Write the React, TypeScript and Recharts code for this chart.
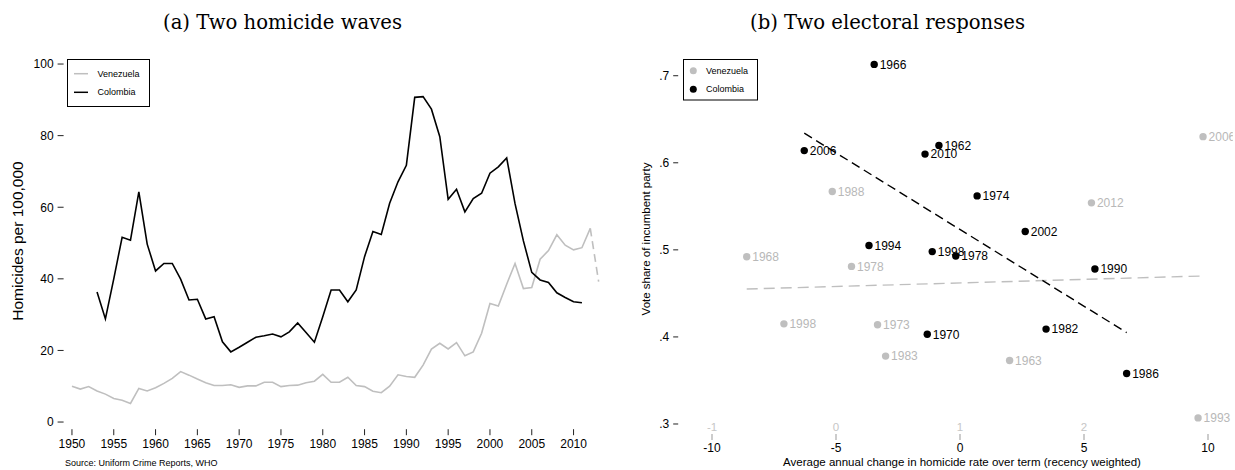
import React from 'react'
import { LineChart, Line, XAxis, YAxis, ScatterChart, Scatter } from 'recharts'

// ---- panel (a): homicide rates per 100,000 ----
const years = [
  1950, 1951, 1952, 1953, 1954, 1955, 1956, 1957, 1958, 1959,
  1960, 1961, 1962, 1963, 1964, 1965, 1966, 1967, 1968, 1969,
  1970, 1971, 1972, 1973, 1974, 1975, 1976, 1977, 1978, 1979,
  1980, 1981, 1982, 1983, 1984, 1985, 1986, 1987, 1988, 1989,
  1990, 1991, 1992, 1993, 1994, 1995, 1996, 1997, 1998, 1999,
  2000, 2001, 2002, 2003, 2004, 2005, 2006, 2007, 2008, 2009,
  2010, 2011, 2012, 2013,
]

const colombiaRate = [
  null, null, null, 36.3, 28.8, 40.0, 51.6, 50.8, 64.3, 49.7,
  42.2, 44.3, 44.3, 39.9, 34.1, 34.3, 28.8, 29.4, 22.4, 19.6,
  20.9, 22.3, 23.7, 24.1, 24.6, 23.8, 25.2, 27.7, 25.0, 22.3,
  29.4, 36.9, 36.9, 33.6, 36.9, 46.2, 53.2, 52.4, 61.1, 67.1,
  71.7, 90.7, 90.9, 87.4, 79.7, 62.2, 65.0, 58.7, 62.4, 63.9,
  69.5, 71.3, 73.8, 61.0, 50.6, 41.8, 39.7, 39.0, 36.1, 34.8,
  33.6, 33.3, null, null,
]

const venezuelaRate = [
  10.0, 9.2, 9.9, 8.7, 7.8, 6.6, 6.1, 5.2, 9.4, 8.7,
  9.6, 10.8, 12.2, 14.1, 13.1, 12.0, 11.0, 10.2, 10.2, 10.4,
  9.7, 10.1, 10.1, 11.1, 11.1, 9.9, 10.2, 10.3, 11.0, 11.4,
  13.3, 11.1, 11.1, 12.5, 10.2, 9.9, 8.6, 8.2, 10.0, 13.2,
  12.7, 12.5, 15.9, 20.4, 22.0, 20.4, 22.2, 18.5, 19.6, 24.8,
  33.1, 32.4, 38.5, 44.3, 37.3, 37.6, 45.5, 47.9, 52.3, 49.4,
  48.1, 48.7, 54.1, null,
]

// last year is provisional, drawn dashed
const venezuelaTailYears = [2012, 2013]
const venezuelaTail = [54.1, 39.2]

const yearTicks = [1950, 1955, 1960, 1965, 1970, 1975, 1980, 1985, 1990, 1995, 2000, 2005, 2010]
const rateTicks = [0, 20, 40, 60, 80, 100]

// ---- panel (b): vote share vs. change in homicide rate ----
const colombiaYears = [1966, 2006, 1962, 2010, 1974, 2002, 1994, 1998, 1978, 1990, 1982, 1970, 1986]
const colombiaChange = [-3.46, -6.28, -0.85, -1.41, 0.69, 2.63, -3.67, -1.12, -0.17, 5.44, 3.47, -1.32, 6.72]
const colombiaVote = [0.713, 0.614, 0.62, 0.61, 0.562, 0.521, 0.505, 0.498, 0.493, 0.478, 0.409, 0.403, 0.358]

const venezuelaYears = [2006, 1988, 2012, 1968, 1978, 1998, 1973, 1983, 1963, 1993]
const venezuelaChange = [2.96, -0.03, 2.06, -0.72, 0.125, -0.42, 0.335, 0.4, 1.4, 2.92]
const venezuelaVote = [0.63, 0.567, 0.554, 0.492, 0.481, 0.415, 0.414, 0.378, 0.373, 0.307]

const colombiaFitX = [-6.28, 6.72]
const colombiaFitY = [0.634, 0.405]
const venezuelaFitX = [-0.72, 2.96]
const venezuelaFitY = [0.455, 0.47]

const colombiaTicks = [-10, -5, 0, 5, 10]
const venezuelaTicks = [-1, 0, 1, 2]
const voteTicks = [0.3, 0.4, 0.5, 0.6, 0.7]

const GREY = '#bfbfbf'
const GREY_TEXT = '#b8b8b8'
const FONT = '"Liberation Sans", Arial, sans-serif'

const homicideRows = years.map((year, i) => {
  const t = venezuelaTailYears.indexOf(year)
  return {
    year,
    colombia: colombiaRate[i],
    venezuela: venezuelaRate[i],
    venTail: t >= 0 ? venezuelaTail[t] : null,
  }
})

const colombiaPoints = colombiaYears.map((y, i) => ({ label: y, x: colombiaChange[i], y: colombiaVote[i] }))
const venezuelaPoints = venezuelaYears.map((y, i) => ({ label: y, x: venezuelaChange[i], y: venezuelaVote[i] }))
const colombiaFit = colombiaFitX.map((x, i) => ({ x, y: colombiaFitY[i] }))
const venezuelaFit = venezuelaFitX.map((x, i) => ({ x, y: venezuelaFitY[i] }))

function fmtVote(v: number) {
  return v.toFixed(1).replace(/^0/, '')
}

function labelledDot(color: string, textColor: string) {
  return (props: any) => {
    const { cx, cy, payload } = props
    if (cx == null || cy == null) return <g />
    return (
      <g>
        <circle cx={cx} cy={cy} r={3.7} fill={color} />
        <text x={cx + 5.5} y={cy + 4.3} fontSize={12} fill={textColor} fontFamily={FONT}>
          {payload.label}
        </text>
      </g>
    )
  }
}

function VoteTick(props: any) {
  const { x, y, payload } = props
  return (
    <g>
      <line x1={x - 14} x2={x - 9} y1={y} y2={y} stroke="#222" strokeWidth={1} />
      <text x={x - 18} y={y + 4.2} textAnchor="end" fontSize={12} fill="#000" fontFamily={FONT}>
        {fmtVote(payload.value)}
      </text>
    </g>
  )
}

// colombian scale below the tick, venezuelan scale (same tick positions) above it
function ChangeTick(props: any) {
  const { x, y, payload, index } = props
  const ven = venezuelaTicks[index]
  return (
    <g>
      {ven != null && (
        <text x={x} y={y - 11} textAnchor="middle" fontSize={11.5} fill="#c6c6c6" fontFamily={FONT}>
          {ven}
        </text>
      )}
      <text x={x} y={y + 10} textAnchor="middle" fontSize={12} fill="#000" fontFamily={FONT}>
        {payload.value}
      </text>
    </g>
  )
}

function Overlay() {
  return (
    <svg width={1235} height={470} style={{ position: 'absolute', left: 0, top: 0, pointerEvents: 'none' }}>
      <text x={282.5} y={29} textAnchor="middle" fontSize={20} fontFamily='"DejaVu Serif", serif'
        textLength={239} lengthAdjust="spacingAndGlyphs">(a) Two homicide waves</text>
      <text x={887.5} y={29} textAnchor="middle" fontSize={20} fontFamily='"DejaVu Serif", serif'
        textLength={275} lengthAdjust="spacingAndGlyphs">(b) Two electoral responses</text>

      <text transform="translate(23,241) rotate(-90)" textAnchor="middle" fontSize={15.5} fontFamily={FONT}>
        Homicides per 100,000
      </text>
      <text x={65} y={466} fontSize={9} fontFamily={FONT}>Source: Uniform Crime Reports, WHO</text>

      <text transform="translate(650,239) rotate(-90)" textAnchor="middle" fontSize={11.5} fontFamily={FONT}>
        Vote share of incumbent party
      </text>
      <text x={962} y={466} textAnchor="middle" fontSize={11.5} fontFamily={FONT}>
        Average annual change in homicide rate over term (recency weighted)
      </text>

      {/* legend (a) */}
      <rect x={67.5} y={59.5} width={82} height={47} fill="#fff" stroke="#000" strokeWidth={1} />
      <line x1={74} x2={88} y1={73.7} y2={73.7} stroke={GREY} strokeWidth={1.5} />
      <line x1={74} x2={88} y1={92.3} y2={92.3} stroke="#000" strokeWidth={1.5} />
      <text x={97.5} y={76.8} fontSize={9} fontFamily={FONT}>Venezuela</text>
      <text x={97.5} y={95.4} fontSize={9} fontFamily={FONT}>Colombia</text>

      {/* legend (b) */}
      <rect x={683.5} y={59.5} width={74} height={40.5} fill="#fff" stroke="#000" strokeWidth={1} />
      <circle cx={693.3} cy={70.7} r={3.5} fill={GREY} />
      <circle cx={693.3} cy={89.3} r={3.5} fill="#000" />
      <text x={706} y={73.8} fontSize={9} fontFamily={FONT}>Venezuela</text>
      <text x={706} y={92.4} fontSize={9} fontFamily={FONT}>Colombia</text>
    </svg>
  )
}

export default function App() {
  return (
    <div style={{ position: 'absolute', left: 0, top: 0, width: 1235, height: 470, background: '#fff', fontFamily: FONT }}>
      <div style={{ position: 'absolute', left: 0, top: 0 }}>
        <LineChart width={620} height={470} data={homicideRows} margin={{ top: 53.3, right: 13, bottom: 0, left: 0 }}>
          <XAxis dataKey="year" type="number" domain={[1949, 2014]} ticks={yearTicks} interval={0}
            axisLine={false} tickSize={6} tickMargin={4} height={40.8}
            tick={{ fontSize: 12, fill: '#000' }} tickLine={{ stroke: '#222' }} />
          <YAxis type="number" domain={[-2, 103]} ticks={rateTicks} interval={0} width={63.6}
            axisLine={false} tickSize={6} tickMargin={4}
            tick={{ fontSize: 12, fill: '#000' }} tickLine={{ stroke: '#222' }} />
          <Line type="linear" dataKey="venezuela" stroke={GREY} strokeWidth={1.6} dot={false} isAnimationActive={false} />
          <Line type="linear" dataKey="venTail" stroke={GREY} strokeWidth={1.6} strokeDasharray="8 5" dot={false} isAnimationActive={false} />
          <Line type="linear" dataKey="colombia" stroke="#000" strokeWidth={1.6} dot={false} isAnimationActive={false} />
        </LineChart>
      </div>

      <div style={{ position: 'absolute', left: 620, top: 0 }}>
        <ScatterChart width={615} height={470} margin={{ top: 40.9, right: 2.2, bottom: 0, left: 0 }}>
          <XAxis xAxisId="col" dataKey="x" type="number" domain={[-11, 11]} allowDataOverflow ticks={colombiaTicks}
            interval={0} axisLine={false} tickSize={6} tickMargin={2} height={36}
            tick={<ChangeTick />} tickLine={{ stroke: '#999' }} />
          <XAxis xAxisId="ven" dataKey="x" type="number" domain={[-1.2, 3.2]} allowDataOverflow hide />
          <YAxis dataKey="y" type="number" domain={[0.2885, 0.74]} allowDataOverflow ticks={voteTicks} interval={0}
            width={67.2} axisLine={false} tickLine={false} tickSize={0} tickMargin={0} tick={<VoteTick />} />
          <Scatter xAxisId="ven" data={venezuelaFit} shape={() => <g />}
            line={{ stroke: GREY, strokeWidth: 1.4, strokeDasharray: '11 6' }} isAnimationActive={false} />
          <Scatter xAxisId="col" data={colombiaFit} shape={() => <g />}
            line={{ stroke: '#000', strokeWidth: 1.4, strokeDasharray: '9 5' }} isAnimationActive={false} />
          <Scatter xAxisId="ven" data={venezuelaPoints} shape={labelledDot(GREY, GREY_TEXT)} isAnimationActive={false} />
          <Scatter xAxisId="col" data={colombiaPoints} shape={labelledDot('#000', '#000')} isAnimationActive={false} />
        </ScatterChart>
      </div>

      <Overlay />
    </div>
  )
}
